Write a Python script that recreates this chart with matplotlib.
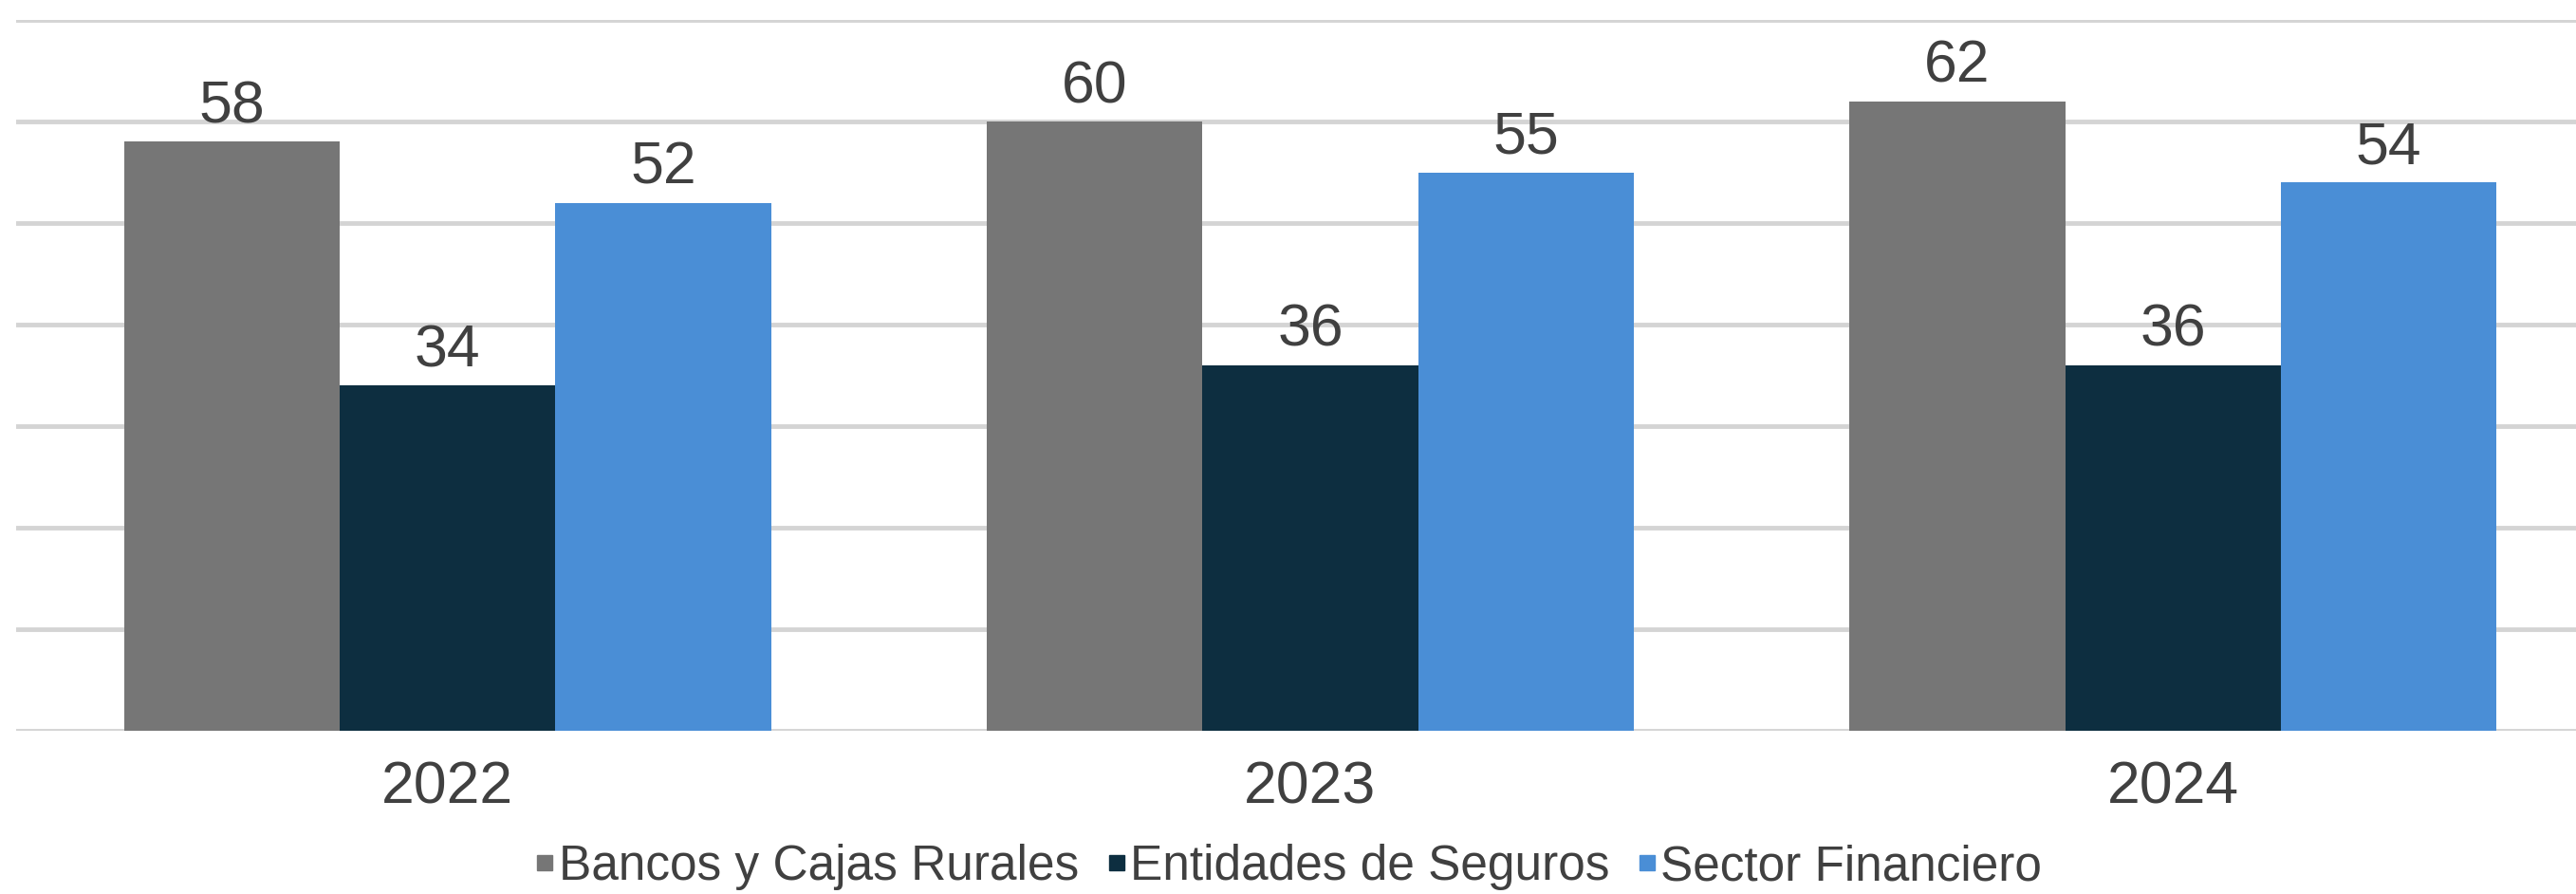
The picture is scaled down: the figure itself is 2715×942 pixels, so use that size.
import matplotlib.pyplot as plt
import numpy as np
from matplotlib.lines import Line2D

plt.rcParams['font.family'] = ['Liberation Sans', 'DejaVu Sans']

years = ['2022', '2023', '2024']
series = ['Bancos y Cajas Rurales', 'Entidades de Seguros', 'Sector Financiero']
bancos = [58, 60, 62]
seguros = [34, 36, 36]
sector = [52, 55, 54]
colors = ['#767676', '#0D2E40', '#4A8ED6']

TEXT = '#404040'

fig = plt.figure(figsize=(27.15, 9.42), dpi=100)
# plot area runs a little past the right edge, like the source crop
ax = fig.add_axes([17 / 2715, 172 / 942, 2728 / 2715, 749 / 942])

x = np.arange(len(years))
w = 0.25
for i, (vals, col) in enumerate(zip([bancos, seguros, sector], colors)):
    bars = ax.bar(x + (i - 1) * w, vals, width=w, color=col, zorder=3)
    for b, v in zip(bars, vals):
        ax.annotate(str(v), (b.get_x() + b.get_width() / 2, v),
                    xytext=(0, 5), textcoords='offset points',
                    ha='center', va='bottom', fontsize=45, color=TEXT)

ax.set_xlim(-0.5, 2.5)
ax.set_ylim(0, 70)
ax.set_yticks(np.arange(0, 71, 10))
ax.yaxis.grid(True, color='#D4D4D4', linewidth=3.5, zorder=0)
ax.tick_params(axis='y', left=False, labelleft=False)
ax.tick_params(axis='x', length=0, labelsize=45, labelcolor=TEXT, pad=22)
ax.set_xticks(x)
ax.set_xticklabels(years)
for s in ax.spines.values():
    s.set_visible(False)

handles = [Line2D([], [], marker='s', linestyle='none', markersize=11,
                  markerfacecolor=c, markeredgecolor=c) for c in colors]
fig.legend(handles, series, loc='center', bbox_to_anchor=(0.5, 0.03),
           ncol=3, frameon=False, fontsize=37, handlelength=0.45,
           handletextpad=0.05, columnspacing=0.55, labelcolor=TEXT)

fig.savefig('out.png', dpi=100, facecolor='white')
